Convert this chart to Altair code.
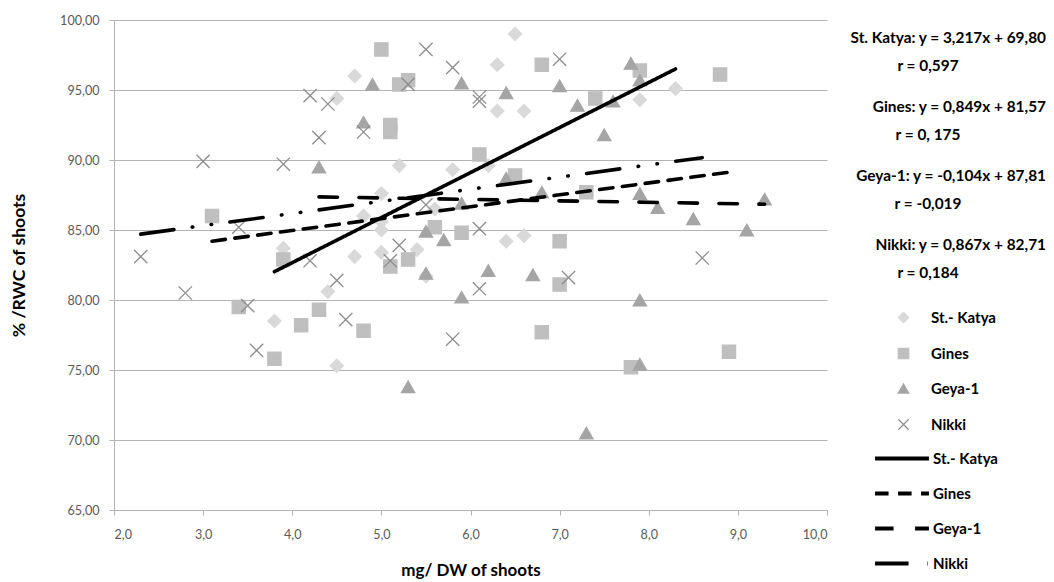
import altair as alt
import pandas as pd

series_names = ["St.- Katya", "Gines", "Geya-1", "Nikki"]

katya_x = [4.7, 4.5, 6.5, 6.3, 6.3, 6.6, 5.2, 5.8, 6.2, 5.0, 4.8, 5.6, 5.0, 5.0, 6.4, 6.6, 5.4, 3.9, 4.7, 5.0, 5.5, 4.4, 3.8, 4.5, 7.9, 8.3]
katya_y = [96.0, 94.4, 99.0, 96.8, 93.5, 93.5, 89.6, 89.3, 89.6, 87.6, 86.0, 86.5, 85.6, 85.0, 84.2, 84.6, 83.6, 83.7, 83.1, 83.4, 81.7, 80.6, 78.5, 75.3, 94.3, 95.1]

gines_x = [5.0, 6.8, 5.2, 5.3, 7.4, 7.9, 8.8, 5.1, 5.1, 6.1, 6.5, 7.3, 3.1, 5.6, 5.9, 7.0, 3.9, 5.3, 5.1, 7.0, 3.4, 4.3, 4.1, 4.8, 6.8, 3.8, 7.8, 8.9]
gines_y = [97.9, 96.8, 95.4, 95.7, 94.4, 96.4, 96.1, 92.5, 92.0, 90.4, 88.9, 87.7, 86.0, 85.2, 84.8, 84.2, 82.9, 82.9, 82.4, 81.1, 79.5, 79.3, 78.2, 77.8, 77.7, 75.8, 75.2, 76.3]

geya_x = [4.8, 4.3, 4.9, 5.9, 6.4, 7.0, 7.2, 7.6, 7.5, 7.8, 7.9, 6.4, 6.8, 5.9, 5.5, 5.7, 7.9, 8.1, 8.5, 9.3, 9.1, 5.5, 6.2, 6.7, 5.9, 7.9, 7.9, 5.3, 7.3]
geya_y = [92.7, 89.5, 95.4, 95.5, 94.8, 95.3, 93.9, 94.2, 91.8, 96.9, 95.7, 88.7, 87.7, 86.9, 84.9, 84.3, 87.6, 86.6, 85.8, 87.2, 85.0, 81.9, 82.1, 81.8, 80.2, 80.0, 75.4, 73.8, 70.5]

nikki_x = [5.5, 5.8, 7.0, 4.2, 4.4, 5.3, 6.1, 6.1, 4.8, 4.3, 3.0, 3.9, 5.5, 3.4, 6.1, 5.2, 2.3, 4.2, 5.1, 8.6, 4.5, 7.1, 2.8, 6.1, 3.5, 4.6, 5.8, 3.6]
nikki_y = [97.9, 96.6, 97.2, 94.6, 94.0, 95.4, 94.5, 94.2, 92.0, 91.6, 89.9, 89.7, 86.8, 85.2, 85.1, 83.9, 83.1, 82.8, 82.8, 83.0, 81.4, 81.6, 80.5, 80.8, 79.6, 78.6, 77.2, 76.4]

# linear trend lines (coefficients shown on the chart) and their x extents
trend_slope = [3.217, 0.849, -0.104, 0.867]
trend_intercept = [69.80, 81.57, 87.81, 82.71]
trend_x_start = [3.8, 3.1, 4.3, 2.3]
trend_x_end = [8.3, 8.9, 9.3, 8.6]

eq_lines = ["St. Katya: y = 3,217x + 69,80", "Gines: y = 0,849x + 81,57",
            "Geya-1: y = -0,104x + 87,81", "Nikki: y = 0,867x + 82,71"]
r_lines = ["r = 0,597", "r = 0, 175", "r = -0,019", "r = 0,184"]

x_ticks = [2, 3, 4, 5, 6, 7, 8, 9, 10]
y_ticks = [65, 70, 75, 80, 85, 90, 95, 100]

# ---- tables ----
rows = []
for name, xs, ys in zip(series_names, [katya_x, gines_x, geya_x, nikki_x],
                        [katya_y, gines_y, geya_y, nikki_y]):
    for a, b in zip(xs, ys):
        rows.append({"series": name, "x": a, "y": b})
pts = pd.DataFrame(rows)

trend_names = [n + " trend" for n in series_names]
trows = []
for tn, s, c, x0, x1 in zip(trend_names, trend_slope, trend_intercept, trend_x_start, trend_x_end):
    for xv in (x0, x1):
        trows.append({"trend": tn, "x": xv, "y": s * xv + c})
trend = pd.DataFrame(trows)

eq = pd.DataFrame({"series": series_names, "eq": eq_lines, "r": r_lines})

FONT = "Lato"
GRID = "#b3b3b3"
marker_colors = ["#d9d9d9", "#bfbfbf", "#a5a5a5", "#8c8c8c"]
shapes = ["diamond", "square", "triangle-up", "M-1,-1L1,1M-1,1L1,-1"]

pt_legend = alt.Legend(
    title=None, orient="none", legendX=782, legendY=290, padding=0,
    symbolSize=110, symbolStrokeWidth=1.2, rowPadding=19,
    labelFont=FONT, labelFontSize=15, labelFontWeight="bold", labelColor="#000000",
    labelOffset=20,
)
line_legend = alt.Legend(
    title=None, orient="none", legendX=759, legendY=431, padding=0,
    symbolType="stroke", symbolSize=2900, symbolStrokeWidth=4, symbolStrokeColor="#000000",
    clipHeight=15, rowPadding=19, labelOffset=2,
    labelFont=FONT, labelFontSize=15, labelFontWeight="bold", labelColor="#000000",
    labelExpr="replace(datum.label, ' trend', '')",
)

xscale = alt.Scale(domain=[2, 10], nice=False, zero=False)
yscale = alt.Scale(domain=[65, 100], nice=False, zero=False)

points = alt.Chart(pts).mark_point(filled=True, size=175, strokeWidth=1.3, opacity=1).encode(
    x=alt.X("x:Q", scale=xscale,
            axis=alt.Axis(values=x_ticks, title="mg/ DW of shoots",
                          labelExpr="replace(format(datum.value, '.1f'), '.', ',')",
                          grid=False)),
    y=alt.Y("y:Q", scale=yscale,
            axis=alt.Axis(values=y_ticks, title="% /RWC of shoots",
                          labelExpr="replace(format(datum.value, '.2f'), '.', ',')",
                          grid=True)),
    shape=alt.Shape("series:N", scale=alt.Scale(domain=series_names, range=shapes), legend=pt_legend),
    fill=alt.Fill("series:N", scale=alt.Scale(domain=series_names, range=marker_colors), legend=pt_legend),
    stroke=alt.Stroke("series:N", scale=alt.Scale(domain=series_names, range=marker_colors), legend=pt_legend),
)

lines = alt.Chart(trend).mark_line(color="#000000", strokeWidth=3.6, strokeCap="round").encode(
    x=alt.X("x:Q", scale=xscale),
    y=alt.Y("y:Q", scale=yscale),
    strokeDash=alt.StrokeDash("trend:N", scale=alt.Scale(
        domain=trend_names,
        range=[[1, 0], [13.5, 9.5], [18.5, 21.5], [33.5, 18.5, 0.5, 18.5, 0.5, 18.5]]),
        legend=line_legend),
    detail="trend:N",
)

plot = alt.layer(points, lines).properties(width=713, height=490)

ysc = alt.Scale(domain=series_names, paddingInner=0, paddingOuter=0)
eq_base = alt.Chart(eq).encode(y=alt.Y("series:N", scale=ysc, axis=None, sort=series_names))
eq_text = eq_base.mark_text(font=FONT, fontSize=15.4, fontWeight="bold", color="#000000",
                            align="right", dx=111, dy=-16.5).encode(text="eq:N")
r_text = eq_base.mark_text(font=FONT, fontSize=15.4, fontWeight="bold", color="#000000",
                           align="center", dx=-7, dy=11).encode(text="r:N")
panel = alt.layer(eq_text, r_text).properties(width=190, height=276)

chart = alt.hconcat(plot, panel, spacing=13, bounds="flush").properties(
    padding={"left": 10, "top": 14, "right": 0, "bottom": 0}
).configure_view(stroke=None).configure_axis(
    labelFont=FONT, labelFontSize=12.6, labelColor="#595959",
    titleFont=FONT, titleFontSize=17, titleFontWeight="bold", titleColor="#000000",
    domainColor=GRID, tickColor=GRID, gridColor=GRID, tickSize=5,
    domainWidth=1, gridWidth=1,
).configure_axisY(labelPadding=10, titlePadding=31.5, titleFontSize=17.5).configure_axisX(labelPadding=13, titlePadding=22)

chart.save("out.html", embed_options={"renderer": "svg", "actions": False})
